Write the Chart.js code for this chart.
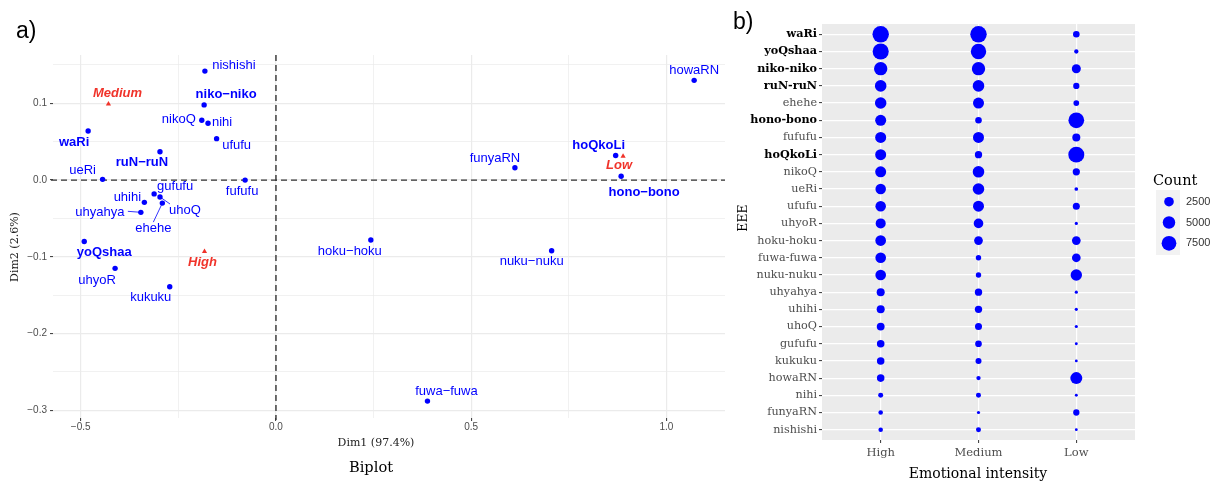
<!DOCTYPE html>
<html>
<head>
<meta charset="utf-8">
<script src="https://cdn.jsdelivr.net/npm/chart.js@4.4.1/dist/chart.umd.min.js"></script>
<style>
  html, body { margin: 0; padding: 0; background: #fff; }
  #wrap { position: relative; width: 1218px; height: 485px; }
  #biplot { position: absolute; left: 0; top: 0; }
  #dots { position: absolute; left: 730px; top: 0; }
</style>
</head>
<body>
<div id="wrap">
  <canvas id="biplot" width="730" height="485"></canvas>
  <canvas id="dots" width="488" height="485"></canvas>
</div>
<script>
// EEE items, in the order of panel b (top to bottom)
const eeeNames = ['waRi', 'yoQshaa', 'niko-niko', 'ruN-ruN', 'ehehe', 'hono-bono', 'fufufu', 'hoQkoLi',
  'nikoQ', 'ueRi', 'ufufu', 'uhyoR', 'hoku-hoku', 'fuwa-fuwa', 'nuku-nuku', 'uhyahya', 'uhihi',
  'uhoQ', 'gufufu', 'kukuku', 'howaRN', 'nihi', 'funyaRN', 'nishishi'];
const boldNames = ['waRi', 'yoQshaa', 'niko-niko', 'ruN-ruN', 'hono-bono', 'hoQkoLi'];

// biplot coordinates
const dim1 = [-0.481, -0.491, -0.184, -0.297, -0.291, 0.884, -0.079, 0.870,
  -0.190, -0.444, -0.152, -0.412, 0.243, 0.388, 0.706, -0.346, -0.337,
  -0.297, -0.312, -0.272, 1.071, -0.174, 0.612, -0.182];
const dim2 = [0.064, -0.080, 0.098, 0.037, -0.030, 0.005, 0.000, 0.032,
  0.078, 0.001, 0.054, -0.115, -0.078, -0.288, -0.092, -0.042, -0.029,
  -0.022, -0.018, -0.139, 0.130, 0.074, 0.016, 0.142];

const intensities = ['High', 'Medium', 'Low'];
const intDim1 = [-0.183, -0.429, 0.889];
const intDim2 = [-0.093, 0.099, 0.031];

// counts per emotional intensity
const countHigh = [9800, 9300, 5900, 4100, 4000, 3600, 3600, 3600,
  3600, 3200, 3200, 2800, 3300, 3300, 3300, 1500, 1500,
  1400, 1250, 1250, 1250, 290, 190, 190];
const countMedium = [9800, 8400, 5900, 4100, 3600, 800, 3600, 1150,
  4100, 4100, 3600, 2500, 1900, 400, 400, 1150, 1150,
  1000, 850, 600, 150, 290, 20, 290];
const countLow = [820, 150, 2100, 700, 500, 8800, 1500, 9100,
  1100, 60, 1000, 15, 1900, 1900, 3900, 15, 15,
  15, 5, 3, 4500, 5, 700, 3];
const countBreaks = [2500, 5000, 7500];

const xTicksA = [-0.5, -0.25, 0, 0.25, 0.5, 0.75, 1.0];
const yTicksA = [-0.3, -0.25, -0.2, -0.15, -0.1, -0.05, 0, 0.05, 0.1, 0.15];

// label placement (pixel nudges from the point), like ggrepel output
const labelNudge = {
  'waRi': [-14, 11], 'yoQshaa': [20, 11], 'niko-niko': [22, -10], 'ruN-ruN': [-18, 11],
  'ehehe': [-9, 25], 'hono-bono': [23, 16], 'fufufu': [-3, 11], 'hoQkoLi': [-17, -10],
  'nikoQ': [-23, -1], 'ueRi': [-20, -9], 'ufufu': [20, 7], 'uhyoR': [-18, 12],
  'hoku-hoku': [-21, 11], 'fuwa-fuwa': [19, -10], 'nuku-nuku': [-20, 11], 'uhyahya': [-41, 0],
  'uhihi': [-17, -5], 'uhoQ': [25, 13], 'gufufu': [21, -7], 'kukuku': [-19, 11],
  'howaRN': [0, -10], 'nihi': [14, -1], 'funyaRN': [-20, -9], 'nishishi': [29, -6],
  'High': [-2, 11], 'Medium': [9, -11], 'Low': [-4, 9]
};
const leaderEnd = { 'uhyahya': [-13, -1], 'uhoQ': [10, 7], 'ehehe': [-9, 19] };

const BLUE = '#0000ff';
const RED = '#f0332a';
const sizeOf = v => 1.3 + 0.07 * Math.sqrt(v);
const fmt = v => v.toFixed(1).replace('-', '\u2212');
const isMajorX = v => Math.abs(v * 2 - Math.round(v * 2)) < 1e-9;
const isMajorY = v => Math.abs(v * 10 - Math.round(v * 10)) < 1e-9;
const isBoldRow = ctx => {
  const idx = ctx.tick ? ctx.tick.value : ctx.index;
  return boldNames.includes(eeeNames[idx]);
};

Chart.defaults.font.family = "'Liberation Sans', Arial, sans-serif";

// ---------- panel a: biplot ----------
const biplotExtras = {
  id: 'biplotExtras',
  beforeDatasetsDraw(chart) {
    const { ctx, chartArea: a, scales: { x, y } } = chart;
    const x0 = x.getPixelForValue(0);
    const y0 = y.getPixelForValue(0);
    ctx.save();
    ctx.setLineDash([6, 4]);
    ctx.lineWidth = 1.4;
    ctx.strokeStyle = '#333';
    ctx.beginPath();
    ctx.moveTo(x0, a.top); ctx.lineTo(x0, a.bottom + 2);
    ctx.moveTo(a.left - 2, y0); ctx.lineTo(a.right, y0);
    ctx.stroke();
    ctx.restore();
  },
  afterDatasetsDraw(chart) {
    const { ctx } = chart;
    ctx.save();
    ctx.textAlign = 'center';
    ctx.textBaseline = 'middle';
    chart.data.datasets.forEach((ds, di) => {
      chart.getDatasetMeta(di).data.forEach((pt, i) => {
        const name = ds.names[i];
        const nudge = labelNudge[name] || [0, -10];
        if (leaderEnd[name]) {
          ctx.strokeStyle = BLUE;
          ctx.lineWidth = 0.8;
          ctx.beginPath();
          ctx.moveTo(pt.x, pt.y);
          ctx.lineTo(pt.x + leaderEnd[name][0], pt.y + leaderEnd[name][1]);
          ctx.stroke();
        }
        if (ds.isIntensity) {
          ctx.fillStyle = RED;
          ctx.font = "italic bold 13px 'Liberation Sans'";
        } else {
          ctx.fillStyle = BLUE;
          ctx.font = (boldNames.includes(name) ? 'bold ' : '') + "13px 'Liberation Sans'";
        }
        ctx.fillText(name.replace(/-/g, '\u2212'), pt.x + nudge[0], pt.y + nudge[1]);
      });
    });
    // titles
    ctx.fillStyle = '#000';
    ctx.textAlign = 'left';
    ctx.textBaseline = 'alphabetic';
    ctx.font = "23px 'Liberation Sans'";
    ctx.fillText('a)', 16, 38);
    ctx.textAlign = 'center';
    ctx.textBaseline = 'middle';
    ctx.fillStyle = '#222';
    ctx.font = "11px 'DejaVu Serif'";
    ctx.fillText('Dim1 (97.4%)', 376, 443);
    ctx.save();
    ctx.translate(15, 247);
    ctx.rotate(-Math.PI / 2);
    ctx.fillText('Dim2 (2.6%)', 0, 0);
    ctx.restore();
    ctx.fillStyle = '#000';
    ctx.font = "14.6px 'DejaVu Serif'";
    ctx.fillText('Biplot', 371, 468);
    ctx.restore();
  }
};

new Chart(document.getElementById('biplot'), {
  type: 'scatter',
  data: {
    datasets: [{
      names: eeeNames,
      data: eeeNames.map((n, i) => ({ x: dim1[i], y: dim2[i] })),
      pointRadius: 2.7,
      pointBackgroundColor: BLUE,
      pointBorderWidth: 0
    }, {
      names: intensities,
      isIntensity: true,
      data: intensities.map((n, i) => ({ x: intDim1[i], y: intDim2[i] })),
      pointStyle: 'triangle',
      pointRadius: 3,
      pointBackgroundColor: RED,
      pointBorderWidth: 0
    }]
  },
  options: {
    responsive: false,
    animation: false,
    devicePixelRatio: 1,
    layout: { padding: { top: 55, right: 5, left: 0, bottom: 0 } },
    plugins: { legend: { display: false }, tooltip: { enabled: false } },
    scales: {
      x: {
        type: 'linear',
        min: -0.571,
        max: 1.150,
        afterBuildTicks: scale => { scale.ticks = xTicksA.map(v => ({ value: v })); },
        afterFit: scale => { scale.height = 67; },
        border: { display: false },
        grid: {
          color: '#ebebeb',
          lineWidth: ctx => (ctx.tick && isMajorX(ctx.tick.value) ? 1.2 : 0.7),
          tickLength: 3,
          tickWidth: 1,
          tickColor: ctx => (ctx.tick && isMajorX(ctx.tick.value) ? '#333' : 'rgba(0,0,0,0)')
        },
        ticks: {
          autoSkip: false,
          maxRotation: 0,
          padding: 0,
          color: '#4d4d4d',
          font: { size: 10 },
          callback: v => (isMajorX(v) ? fmt(v) : '')
        }
      },
      y: {
        type: 'linear',
        min: -0.310,
        max: 0.163,
        afterBuildTicks: scale => { scale.ticks = yTicksA.map(v => ({ value: v })); },
        afterFit: scale => { scale.width = 53; },
        border: { display: false },
        grid: {
          color: '#ebebeb',
          lineWidth: ctx => (ctx.tick && isMajorY(ctx.tick.value) ? 1.2 : 0.7),
          tickLength: 3,
          tickWidth: 1,
          tickColor: ctx => (ctx.tick && isMajorY(ctx.tick.value) ? '#333' : 'rgba(0,0,0,0)')
        },
        ticks: {
          autoSkip: false,
          padding: 3,
          color: '#4d4d4d',
          font: { size: 10 },
          callback: v => (isMajorY(v) ? fmt(v) : '')
        }
      }
    }
  },
  plugins: [biplotExtras]
});

// ---------- panel b: counts by emotional intensity ----------
const dotExtras = {
  id: 'dotExtras',
  beforeDraw(chart) {
    const { ctx, chartArea: a } = chart;
    ctx.save();
    ctx.fillStyle = '#ebebeb';
    ctx.fillRect(a.left, a.top, a.right - a.left, a.bottom - a.top);
    ctx.restore();
  },
  afterDraw(chart) {
    const { ctx } = chart;
    ctx.save();
    ctx.fillStyle = '#000';
    ctx.textAlign = 'left';
    ctx.textBaseline = 'alphabetic';
    ctx.font = "23px 'Liberation Sans'";
    ctx.fillText('b)', 3, 29);
    ctx.textAlign = 'center';
    ctx.textBaseline = 'middle';
    ctx.font = "14px 'DejaVu Serif'";
    ctx.fillText('Emotional intensity', 248, 474);
    ctx.save();
    ctx.translate(14, 218);
    ctx.rotate(-Math.PI / 2);
    ctx.font = "12.5px 'DejaVu Serif'";
    ctx.fillText('EEE', 0, 0);
    ctx.restore();
    // size legend
    ctx.textAlign = 'left';
    ctx.textBaseline = 'alphabetic';
    ctx.font = "14.5px 'DejaVu Serif'";
    ctx.fillText('Count', 423, 185);
    ctx.fillStyle = '#f2f2f2';
    ctx.fillRect(426, 190, 24, 65);
    ctx.textBaseline = 'middle';
    ctx.font = "11px 'Liberation Sans'";
    countBreaks.forEach((v, i) => {
      const cy = 201.7 + i * 20.8;
      ctx.fillStyle = BLUE;
      ctx.beginPath();
      ctx.arc(439, cy, sizeOf(v), 0, Math.PI * 2);
      ctx.fill();
      ctx.fillStyle = '#333';
      ctx.fillText(String(v), 456, cy);
    });
    ctx.restore();
  }
};

const countSets = [countHigh, countMedium, countLow];

new Chart(document.getElementById('dots'), {
  type: 'bubble',
  data: {
    datasets: countSets.map((counts, k) => ({
      label: intensities[k],
      data: eeeNames.map((n, i) => ({ x: k + 1, y: i, r: sizeOf(counts[i]) })),
      backgroundColor: BLUE,
      borderWidth: 0,
      hoverRadius: 0
    }))
  },
  options: {
    responsive: false,
    animation: false,
    devicePixelRatio: 1,
    layout: { padding: { top: 24, right: 83, left: 0, bottom: 0 } },
    plugins: { legend: { display: false }, tooltip: { enabled: false } },
    scales: {
      x: {
        type: 'linear',
        min: 0.4,
        max: 3.6,
        afterBuildTicks: scale => { scale.ticks = intensities.map((n, i) => ({ value: i + 1 })); },
        afterFit: scale => { scale.height = 45; },
        border: { display: false },
        grid: { color: '#ffffff', lineWidth: 1.2, tickLength: 3, tickWidth: 1, tickColor: '#333' },
        ticks: {
          autoSkip: false,
          maxRotation: 0,
          padding: 3,
          color: '#4d4d4d',
          font: { family: "'DejaVu Serif'", size: 11.5 },
          callback: v => intensities[v - 1]
        }
      },
      y: {
        type: 'linear',
        reverse: true,
        min: -0.6,
        max: 23.6,
        afterBuildTicks: scale => { scale.ticks = eeeNames.map((n, i) => ({ value: i })); },
        afterFit: scale => { scale.width = 92; },
        border: { display: false },
        grid: { color: '#ffffff', lineWidth: 1.2, tickLength: 3, tickWidth: 1, tickColor: '#333' },
        ticks: {
          autoSkip: false,
          padding: 2,
          color: ctx => (isBoldRow(ctx) ? '#000' : '#4d4d4d'),
          font: ctx => ({
            family: "'DejaVu Serif'",
            size: 11.2,
            weight: isBoldRow(ctx) ? 'bold' : 'normal'
          }),
          callback: v => eeeNames[v]
        }
      }
    }
  },
  plugins: [dotExtras]
});
</script>
</body>
</html>
